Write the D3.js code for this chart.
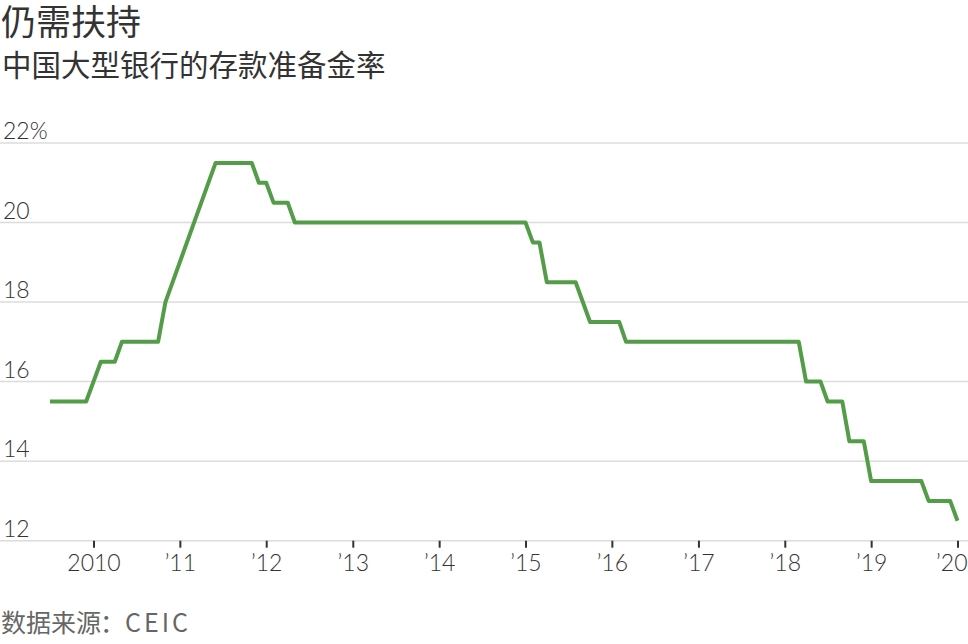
<!DOCTYPE html>
<html>
<head>
<meta charset="utf-8">
<script src="https://cdn.jsdelivr.net/npm/d3@7"></script>
<style>
  html, body { margin: 0; padding: 0; background: #fff; }
  svg { display: block; }
  text { text-spacing-trim: space-all; }
</style>
</head>
<body>
<svg id="chart" width="968" height="644"></svg>
<script>
// Bend points of the monthly series (month, reserve requirement ratio %)
const months = ["2009-07","2009-12","2010-02","2010-04","2010-05","2010-10","2010-11",
  "2011-06","2011-11","2011-12","2012-01","2012-02","2012-04","2012-05",
  "2015-01","2015-02","2015-03","2015-04","2015-08","2015-10","2016-02","2016-03",
  "2018-03","2018-04","2018-06","2018-07","2018-09","2018-10","2018-12","2019-01",
  "2019-08","2019-09","2019-12","2020-01"];
const rates = [15.5,15.5,16.5,16.5,17.0,17.0,18.0,
  21.5,21.5,21.0,21.0,20.5,20.5,20.0,
  20.0,19.5,19.5,18.5,18.5,17.5,17.5,17.0,
  17.0,16.0,16.0,15.5,15.5,14.5,14.5,13.5,
  13.5,13.0,13.0,12.5];
const yTicks = [12, 14, 16, 18, 20, 22];
const xTickYears = [2010, 2011, 2012, 2013, 2014, 2015, 2016, 2017, 2018, 2019, 2020];
const title = "仍需扶持";
const subtitle = "中国大型银行的存款准备金率";
const sourceLabel = "数据来源";
const sourceName = "CEIC";

const parse = d3.timeParse("%Y-%m");
const data = months.map((m, i) => ({ date: parse(m), value: rates[i] }));

const svg = d3.select("#chart");
const W = 968;

const x = d3.scaleTime()
  .domain([new Date(2010, 0, 1), new Date(2020, 0, 1)])
  .range([93.5, 957.5]);
const y = d3.scaleLinear().domain([12, 22]).range([540.7, 143]);

const cjk = "'Noto Sans CJK SC', 'Noto Sans', sans-serif";
const num = "Lato, 'Noto Sans', sans-serif";

// Titles
svg.append("text").attr("x", 1).attr("y", 35)
  .attr("font-family", cjk).attr("font-size", 35).attr("font-weight", 400)
  .attr("fill", "#333").text(title);
svg.append("text").attr("x", 2).attr("y", 76)
  .attr("font-family", cjk).attr("font-size", 29.5)
  .attr("fill", "#333").text(subtitle);

// Gridlines
const grid = svg.append("g");
grid.selectAll("line").data(yTicks).join("line")
  .attr("x1", 0).attr("x2", W)
  .attr("y1", d => y(d)).attr("y2", d => y(d))
  .attr("stroke", "#dcdcdc").attr("stroke-width", 1.5);

// Y labels
svg.append("g").selectAll("text").data(yTicks).join("text")
  .attr("x", 3).attr("y", d => y(d) - 4)
  .attr("font-family", num).attr("font-weight", 300).attr("font-size", 23)
  .attr("fill", "#333")
  .text(d => d === 22 ? d + "%" : d);

// X axis
const xAxis = d3.axisBottom(x)
  .tickValues(xTickYears.map(yr => new Date(yr, 0, 1)))
  .tickSize(7).tickPadding(7)
  .tickFormat(d => d.getFullYear() === 2010 ? "2010" : "\u2019" + String(d.getFullYear()).slice(2));
const gx = svg.append("g").attr("transform", `translate(0,${y(12)})`).call(xAxis);
gx.select(".domain").remove();
gx.selectAll(".tick line").attr("stroke", "#333").attr("stroke-width", 2);
gx.selectAll(".tick text")
  .attr("font-family", num).attr("font-weight", 300).attr("font-size", 23)
  .attr("fill", "#333");
// keep the last label inside the frame
gx.selectAll(".tick text").filter(d => d.getFullYear() === 2020)
  .attr("text-anchor", "end").attr("x", W - 957.5 - 1);

// Line
const line = d3.line().x(d => x(d.date)).y(d => y(d.value));
svg.append("path").datum(data)
  .attr("d", line)
  .attr("fill", "none")
  .attr("stroke", "#549d48")
  .attr("stroke-width", 4)
  .attr("stroke-linejoin", "round")
  .attr("stroke-linecap", "butt");

// Source
const src = svg.append("text").attr("x", 1).attr("y", 632)
  .attr("font-family", cjk).attr("font-size", 25)
  .attr("fill", "#666");
src.append("tspan").text(sourceLabel);
src.append("tspan").attr("x", 100).text("：");
src.append("tspan").attr("x", 125).attr("letter-spacing", 3).text(sourceName);
</script>
</body>
</html>
